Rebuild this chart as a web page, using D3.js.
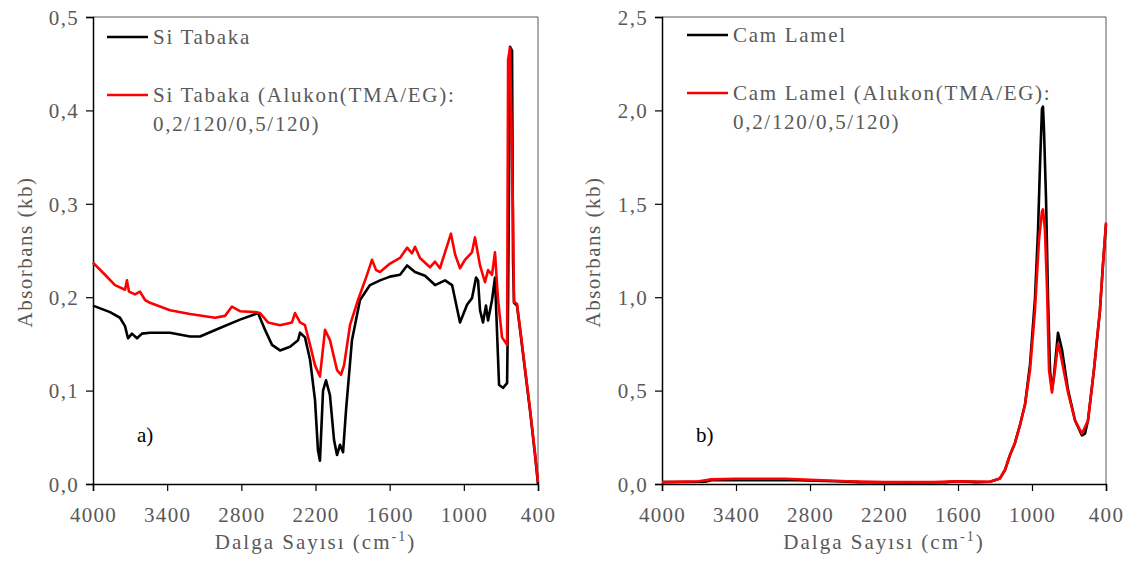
<!DOCTYPE html>
<html>
<head>
<meta charset="utf-8">
<script src="https://cdn.jsdelivr.net/npm/d3@7"></script>
<style>
  body { margin: 0; background: #fff; }
  svg text { font-family: "Liberation Serif", "Times New Roman", serif; fill: #595959; }
</style>
</head>
<body>
<svg id="chart" width="1136" height="562"></svg>
<script>
// ---- data: [wavenumber cm-1, absorbance] ----
var xTicks = [4000, 3400, 2800, 2200, 1600, 1000, 400];
var yTicksA = [0, 0.1, 0.2, 0.3, 0.4, 0.5];
var yTicksB = [0, 0.5, 1.0, 1.5, 2.0, 2.5];

var legendA = ["Si Tabaka", "Si Tabaka (Alukon(TMA/EG):", "0,2/120/0,5/120)"];
var legendB = ["Cam Lamel", "Cam Lamel (Alukon(TMA/EG):", "0,2/120/0,5/120)"];

var siBare = [
  [4000,0.191],[3862,0.184],[3782,0.178],[3741,0.169],[3717,0.156],[3685,0.161],[3644,0.156],
  [3604,0.161],[3539,0.162],[3377,0.162],[3215,0.158],[3134,0.158],[2973,0.167],[2811,0.176],
  [2665,0.183],[2608,0.165],[2552,0.149],[2487,0.143],[2406,0.147],[2341,0.154],[2325,0.162],
  [2285,0.157],[2244,0.133],[2204,0.090],[2180,0.036],[2164,0.025],[2139,0.100],[2115,0.111],
  [2083,0.095],[2050,0.047],[2026,0.031],[2002,0.042],[1977,0.034],[1953,0.079],[1905,0.154],
  [1840,0.197],[1759,0.213],[1678,0.218],[1597,0.222],[1516,0.224],[1459,0.234],[1395,0.227],
  [1314,0.223],[1233,0.213],[1152,0.218],[1095,0.213],[1031,0.173],[974,0.192],[934,0.199],
  [901,0.221],[885,0.218],[869,0.186],[845,0.173],[821,0.191],[804,0.175],[772,0.197],
  [748,0.221],[732,0.165],[715,0.106],[683,0.103],[650,0.108],[642,0.197],[626,0.468],
  [610,0.464],[602,0.240],[594,0.194],[570,0.191],[545,0.165],[505,0.122],[465,0.079],
  [424,0.031],[400,0.0]
];
var siCoated = [
  [4000,0.237],[3903,0.224],[3822,0.213],[3741,0.208],[3725,0.218],[3709,0.206],[3660,0.203],
  [3620,0.206],[3579,0.197],[3539,0.194],[3377,0.186],[3215,0.182],[3013,0.178],[2932,0.180],
  [2876,0.190],[2811,0.185],[2690,0.184],[2649,0.183],[2584,0.173],[2487,0.170],[2390,0.173],
  [2366,0.183],[2325,0.173],[2285,0.170],[2244,0.149],[2204,0.127],[2164,0.115],[2123,0.165],
  [2083,0.154],[2026,0.122],[1994,0.117],[1969,0.127],[1921,0.170],[1856,0.197],[1791,0.221],
  [1743,0.240],[1710,0.229],[1678,0.227],[1597,0.236],[1516,0.242],[1459,0.253],[1419,0.247],
  [1395,0.254],[1355,0.242],[1274,0.232],[1233,0.238],[1193,0.231],[1104,0.268],[1071,0.246],
  [1031,0.231],[991,0.240],[934,0.248],[910,0.264],[869,0.234],[829,0.216],[804,0.229],
  [772,0.224],[748,0.248],[723,0.197],[691,0.157],[650,0.149],[642,0.454],[626,0.467],
  [602,0.288],[594,0.195],[570,0.193],[545,0.167],[505,0.124],[465,0.081],[424,0.033],[400,0.002]
];
var camBare = [
  [4000,0.010],[3650,0.012],[3600,0.020],[3300,0.020],[2900,0.020],[2600,0.015],[2400,0.010],
  [2000,0.008],[1700,0.010],[1600,0.015],[1450,0.010],[1340,0.012],[1260,0.030],[1219,0.075],
  [1178,0.156],[1138,0.220],[1097,0.317],[1057,0.424],[1016,0.640],[976,0.990],[951,1.360],
  [935,1.710],[919,2.010],[911,2.020],[903,1.900],[886,1.520],[870,0.990],[854,0.610],
  [838,0.504],[822,0.580],[789,0.810],[757,0.720],[708,0.504],[651,0.340],[595,0.260],
  [570,0.270],[546,0.340],[498,0.610],[449,0.930],[425,1.170],[400,1.390]
];
var camCoated = [
  [4000,0.010],[3700,0.015],[3600,0.025],[3400,0.028],[3000,0.028],[2700,0.020],[2500,0.015],
  [2200,0.010],[1800,0.010],[1600,0.015],[1340,0.012],[1260,0.030],[1219,0.075],[1178,0.156],
  [1138,0.220],[1097,0.317],[1057,0.424],[1016,0.610],[976,0.930],[943,1.310],[919,1.460],
  [911,1.470],[895,1.360],[878,1.040],[862,0.610],[838,0.490],[814,0.610],[789,0.750],
  [773,0.710],[708,0.490],[651,0.340],[595,0.270],[546,0.340],[498,0.610],[449,0.930],
  [425,1.170],[400,1.400]
];

var svg = d3.select("#chart");

/**
 * draws one spectrum panel
 */
function drawPanel(p) {
  var x = d3.scaleLinear().domain([4000, 400]).range([p.left, p.right]);
  var y = d3.scaleLinear().domain([0, p.ymax]).range([484, 17]);
  var g = svg.append("g");

  // frame (top + right)
  g.append("path")
    .attr("d", "M" + p.left + "," + y(p.ymax) + "H" + p.right + "V" + y(0))
    .attr("fill", "none").attr("stroke", "#595959").attr("stroke-width", 1);

  var xAxis = g.append("g").attr("transform", "translate(0," + y(0) + ")")
    .call(d3.axisBottom(x).tickValues(xTicks).tickSize(7).tickFormat(d3.format("d")));
  var yAxis = g.append("g").attr("transform", "translate(" + p.left + ",0)")
    .call(d3.axisLeft(y).tickValues(p.yTicks).tickSize(7)
      .tickFormat(function(d){ return d3.format(p.fmt)(d).replace(".", ","); }));

  [xAxis, yAxis].forEach(function(a){
    a.select(".domain").attr("stroke", "#000").attr("stroke-width", 1.5);
    a.selectAll(".tick line").attr("stroke", "#000").attr("stroke-width", 1.2);
    a.selectAll("text").style("font-size", "21px").style("letter-spacing", "1.3px").attr("fill", "#595959");
  });
  xAxis.selectAll("text").attr("dy", null).attr("y", 38);
  yAxis.selectAll("text").attr("x", -14).attr("dy", "0.35em");

  var line = d3.line().x(function(d){ return x(d[0]); }).y(function(d){ return y(d[1]); });

  g.append("path").datum(p.black).attr("d", line)
    .attr("fill", "none").attr("stroke", "#000").attr("stroke-width", 2.6).attr("stroke-linejoin", "round");
  g.append("path").datum(p.red).attr("d", line)
    .attr("fill", "none").attr("stroke", "#ff0000").attr("stroke-width", 2.6).attr("stroke-linejoin", "round");

  // legend
  var lg = g.append("g").attr("transform", "translate(" + p.legX + "," + p.legY + ")");
  lg.append("line").attr("x1", 0).attr("x2", 41).attr("y1", 0).attr("y2", 0)
    .attr("stroke", "#000").attr("stroke-width", 2.6);
  lg.append("line").attr("x1", 0).attr("x2", 41).attr("y1", 58).attr("y2", 58)
    .attr("stroke", "#ff0000").attr("stroke-width", 2.6);
  lg.selectAll("text").data(p.legend).enter().append("text")
    .attr("x", 46).attr("y", function(d, i){ return [7, 65, 94][i]; })
    .style("font-size", "21px").style("letter-spacing", "1.7px")
    .text(function(d){ return d; });

  // axis titles
  var xt = g.append("text").attr("x", (p.left + p.right) / 2).attr("y", 549)
    .attr("text-anchor", "middle").style("font-size", "21px").style("letter-spacing", "2px");
  xt.append("tspan").text("Dalga Sayısı (cm");
  xt.append("tspan").attr("dy", -8).style("font-size", "14px").text("-1");
  xt.append("tspan").attr("dy", 8).text(")");

  g.append("text").attr("transform", "translate(" + p.titleX + ",252) rotate(-90)")
    .attr("text-anchor", "middle").style("font-size", "21px").style("letter-spacing", "1.5px")
    .text("Absorbans  (kb)");

  g.append("text").attr("x", p.tagX).attr("y", 442)
    .style("font-size", "21px").style("fill", "#000").text(p.tag);
}

drawPanel({ left: 93, right: 538, ymax: 0.5, yTicks: yTicksA, fmt: ".1f",
  black: siBare, red: siCoated, legend: legendA, legX: 107, legY: 37,
  titleX: 32, tagX: 137, tag: "a)" });
drawPanel({ left: 662, right: 1106, ymax: 2.5, yTicks: yTicksB, fmt: ".1f",
  black: camBare, red: camCoated, legend: legendB, legX: 687, legY: 35,
  titleX: 600, tagX: 696, tag: "b)" });
</script>
</body>
</html>
